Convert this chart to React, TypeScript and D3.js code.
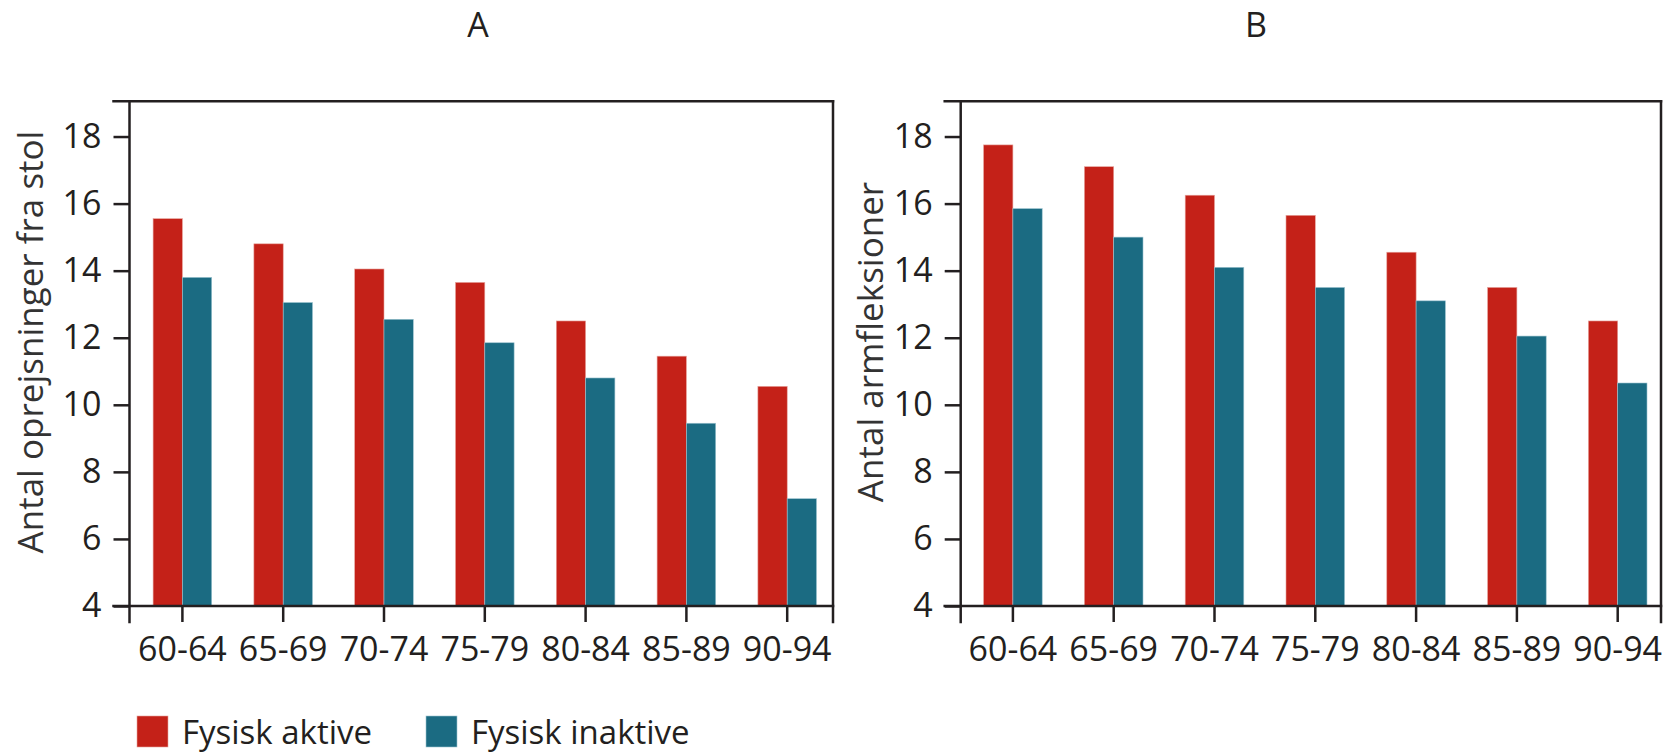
import React, { useEffect, useRef } from 'react';
import * as d3 from 'd3';

const ageGroups = ['60-64', '65-69', '70-74', '75-79', '80-84', '85-89', '90-94'];
const seriesNames = ['Fysisk aktive', 'Fysisk inaktive'];
const seriesColors = ['#c42118', '#1b6b82'];

// A: rejsninger fra stol
const chairActive = [15.55, 14.8, 14.05, 13.65, 12.5, 11.45, 10.55];
const chairInactive = [13.8, 13.05, 12.55, 11.85, 10.8, 9.45, 7.2];
// B: armfleksioner
const armActive = [17.75, 17.1, 16.25, 15.65, 14.55, 13.5, 12.5];
const armInactive = [15.85, 15.0, 14.1, 13.5, 13.1, 12.05, 10.65];

const yTicks = [4, 6, 8, 10, 12, 14, 16, 18];

const FONT = '"Open Sans", "DejaVu Sans", sans-serif';
const INK = '#231f20';

export default function App() {
  const ref = useRef<SVGSVGElement>(null);

  useEffect(() => {
    const width = 1665;
    const height = 754;
    const svg = d3.select(ref.current);
    svg.selectAll('*').remove();
    svg.attr('width', width).attr('height', height);

    const y = d3.scaleLinear().domain([4, 19]).range([606, 103]);

    const panels = [
      {
        title: 'A',
        titleX: 478,
        yLabel: 'Antal oprejsninger fra stol',
        yLabelX: 43,
        left: 129.5,
        right: 833,
        range: [132, 837.6],
        values: [chairActive, chairInactive],
      },
      {
        title: 'B',
        titleX: 1256,
        yLabel: 'Antal armfleksioner',
        yLabelX: 883,
        left: 960.7,
        right: 1661,
        range: [962.5, 1668.1],
        values: [armActive, armInactive],
      },
    ];

    panels.forEach((p) => {
      const g = svg.append('g');

      const x0 = d3.scaleBand().domain(ageGroups).range(p.range as [number, number]).padding(0);
      const x1 = d3
        .scaleBand()
        .domain(seriesNames)
        .range([0, x0.bandwidth()])
        .paddingInner(0)
        .paddingOuter(0.72);

      // bars
      seriesNames.forEach((s, si) => {
        g.selectAll(null)
          .data(ageGroups)
          .enter()
          .append('rect')
          .attr('x', (d) => (x0(d) as number) + (x1(s) as number))
          .attr('y', (d, i) => y(p.values[si][i]))
          .attr('width', x1.bandwidth())
          .attr('height', (d, i) => y(4) - y(p.values[si][i]))
          .style('fill', seriesColors[si])
          .style('stroke', si === 0 ? '#e6a29c' : '#9cc3cf')
          .style('stroke-width', 0.6);
      });

      // y axis
      const yAxis = d3
        .axisLeft(y)
        .tickValues(yTicks)
        .tickSize(16)
        .tickPadding(12)
        .tickFormat(d3.format('d'));
      const ya = g
        .append('g')
        .attr('transform', 'translate(' + p.left + ',0)')
        .call(yAxis);
      ya.select('.domain').remove();
      ya.selectAll('line').style('stroke', INK).style('stroke-width', 2.5);
      ya.selectAll('text')
        .style('font-family', FONT)
        .style('font-size', '34px')
        .style('fill', INK);

      // x axis
      const xAxis = d3.axisBottom(x0).tickSize(16).tickPadding(15);
      const xa = g
        .append('g')
        .attr('transform', 'translate(0,' + y(4) + ')')
        .call(xAxis);
      xa.select('.domain').remove();
      xa.selectAll('line').style('stroke', INK).style('stroke-width', 2.5);
      xa.selectAll('text')
        .style('font-family', FONT)
        .style('font-size', '34px')
        .style('fill', INK);

      // frame
      const tickLeft = p.left - 16;
      const frame = [
        [tickLeft, y(19.05), p.right, y(19.05)],
        [tickLeft, y(4), p.right, y(4)],
        [p.left, y(19.05), p.left, y(4) + 16],
        [p.right, y(19.05), p.right, y(4) + 16],
      ];
      g.selectAll(null)
        .data(frame)
        .enter()
        .append('line')
        .attr('x1', (d) => d[0])
        .attr('y1', (d) => d[1])
        .attr('x2', (d) => d[2])
        .attr('y2', (d) => d[3])
        .style('stroke', INK)
        .style('stroke-width', 2.5)
        .style('stroke-linecap', 'square');

      // y title
      g.append('text')
        .attr('transform', 'translate(' + p.yLabelX + ',' + 342 + ') rotate(-90)')
        .style('text-anchor', 'middle')
        .style('font-family', FONT)
        .style('font-size', '35px')
        .style('fill', '#333')
        .text(p.yLabel);

      // panel title
      g.append('text')
        .attr('x', p.titleX)
        .attr('y', 37)
        .style('text-anchor', 'middle')
        .style('font-family', FONT)
        .style('font-size', '34px')
        .style('fill', INK)
        .text(p.title);
    });

    // legend
    const legendX = [137, 426];
    const legend = svg
      .selectAll(null)
      .data(seriesNames)
      .enter()
      .append('g')
      .attr('transform', (d, i) => 'translate(' + legendX[i] + ',716)');
    legend
      .append('rect')
      .attr('width', 31)
      .attr('height', 31)
      .style('fill', (d, i) => seriesColors[i])
      .style('stroke', (d, i) => (i === 0 ? '#e6a29c' : '#9cc3cf'))
      .style('stroke-width', 0.6);
    legend
      .append('text')
      .attr('x', 45)
      .attr('y', 28)
      .style('font-family', FONT)
      .style('font-size', '33px')
      .style('fill', INK)
      .text((d) => d);
  }, []);

  return (
    <svg
      ref={ref}
      style={{ position: 'absolute', left: 0, top: 0, background: '#fff' }}
    ></svg>
  );
}
